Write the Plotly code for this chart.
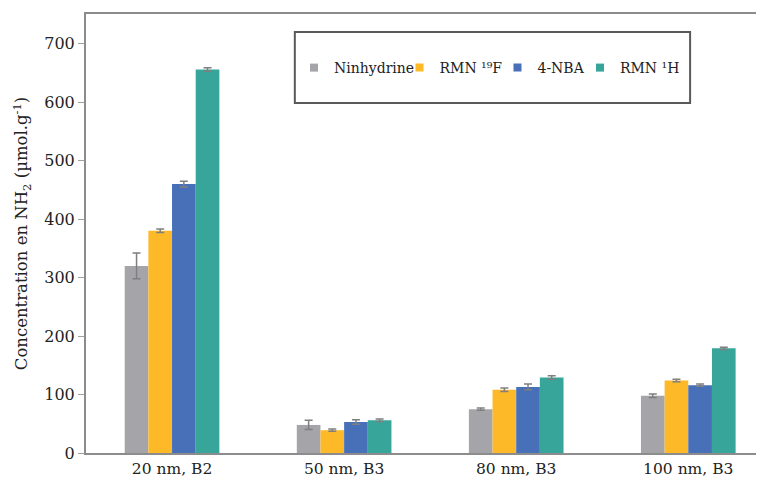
import plotly.graph_objects as go

categories = ["20 nm, B2", "50 nm, B3", "80 nm, B3", "100 nm, B3"]
series_names = ["Ninhydrine", "RMN ¹⁹F", "4-NBA", "RMN ¹H"]
ninhydrine = [320, 48, 75, 98]
ninhydrine_err = [22, 8, 2, 3]
rmn19f = [380, 39, 108, 124]
rmn19f_err = [3, 2, 3, 2]
nba = [460, 53, 113, 116]
nba_err = [5, 4, 5, 2]
rmn1h = [656, 56, 129, 179]
rmn1h_err = [3, 2, 3, 2]
colors = ["#A5A5A9", "#FDB928", "#4770B8", "#37A59A"]
yticks = [0, 100, 200, 300, 400, 500, 600, 700]

values = [ninhydrine, rmn19f, nba, rmn1h]
errors = [ninhydrine_err, rmn19f_err, nba_err, rmn1h_err]

FONT = "DejaVu Serif"
TXT = "#222222"
legend_ids = ["legend", "legend2", "legend3", "legend4"]
legend_x = [0.3068, 0.4624, 0.6069, 0.7286]

fig = go.Figure()
for name, v, e, c in zip(series_names, values, errors, colors):
    fig.add_trace(go.Bar(
        x=categories, y=v, name=name, showlegend=False,
        marker=dict(color=c, line=dict(width=0)),
        error_y=dict(type="data", array=e, visible=True, color="#7F7F7F", thickness=1.5, width=4),
    ))
# legend swatches (small squares, like the reference)
for name, c, lid in zip(series_names, colors, legend_ids):
    fig.add_trace(go.Scatter(
        x=[None], y=[None], mode="markers", name=name, legend=lid, showlegend=True,
        marker=dict(symbol="square", size=8, color=c, line=dict(width=0)),
    ))

layout_legends = {}
for lid, lx in zip(legend_ids, legend_x):
    layout_legends[lid] = dict(orientation="h", x=lx, xanchor="left", y=0.877, yanchor="middle",
                               bgcolor="rgba(0,0,0,0)", borderwidth=0,
                               font=dict(family=FONT, size=14, color=TXT), itemwidth=30)

# The page body has an 8px default margin, so the figure is 8px smaller than the window.
fig.update_layout(
    width=756, height=474,
    margin=dict(l=78, r=0, t=6, b=29, autoexpand=False),
    paper_bgcolor="white", plot_bgcolor="white",
    barmode="group", bargap=0.45, bargroupgap=0,
    font=dict(family=FONT, size=15, color=TXT),
    showlegend=True,
    shapes=[dict(type="rect", xref="paper", yref="paper", x0=0.308, x1=0.891, y0=0.797, y1=0.959,
                 line=dict(color="#595959", width=2), fillcolor="rgba(0,0,0,0)")],
    **layout_legends,
)
fig.update_xaxes(range=[-0.5, 3.44], showline=True, linecolor="#8C8C8C", linewidth=2,
                 mirror=True, ticks="", showgrid=False, automargin=False,
                 tickfont=dict(family=FONT, size=15.5, color=TXT))
fig.update_yaxes(range=[0, 751], tickvals=yticks, showline=True, linecolor="#8C8C8C", linewidth=2,
                 ticks="outside", ticklen=6, tickcolor="#A0A0A0", showgrid=False, zeroline=False,
                 automargin=False,
                 tickfont=dict(family=FONT, size=16, color=TXT),
                 title=dict(text="Concentration en NH<sub>2</sub> (µmol.g<sup>-1</sup>)",
                            font=dict(family=FONT, size=16.5, color=TXT), standoff=12))

fig.write_html("out.html")
